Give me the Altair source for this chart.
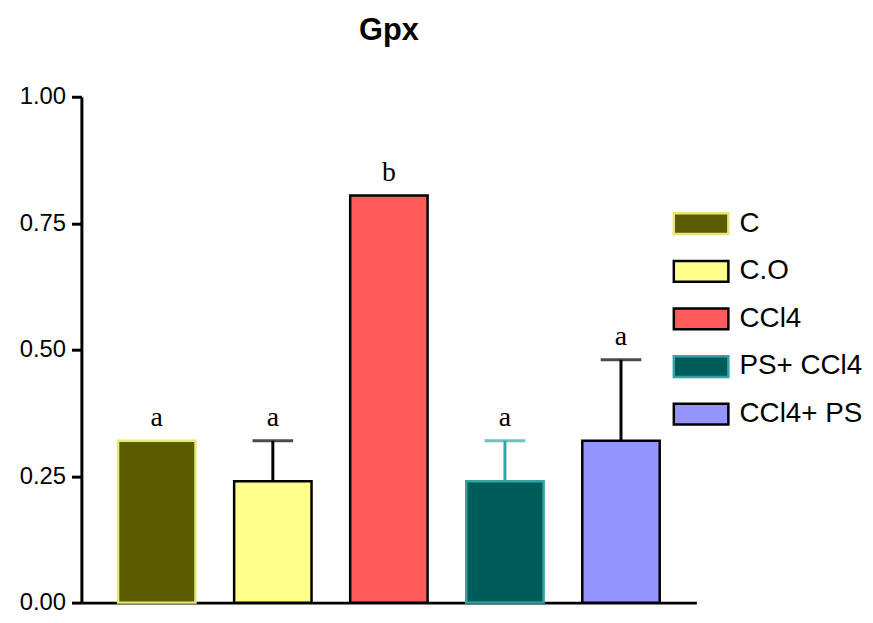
import altair as alt
import pandas as pd

groups = ["C", "C.O", "CCl4", "PS+ CCl4", "CCl4+ PS"]
means = [0.32, 0.24, 0.805, 0.24, 0.32]
errs = [0.0, 0.08, 0.0, 0.08, 0.16]
letters = ["a", "a", "b", "a", "a"]

fill_colors = ["#5b5b00", "#ffff8c", "#ff5b5b", "#005b5b", "#9494ff"]
stroke_colors = ["#e6e67a", "#000000", "#000000", "#33a3a3", "#000000"]

df = pd.DataFrame({
    "group": groups,
    "mean": means,
    "err": errs,
    "top": [m + e for m, e in zip(means, errs)],
    "letter": letters,
})

x_enc = alt.X("group:N", sort=groups,
              scale=alt.Scale(paddingInner=0.333, paddingOuter=0.316),
              axis=alt.Axis(title=None, labels=False, ticks=False,
                            domainColor="black", domainWidth=3))
y_scale = alt.Scale(domain=[0, 1], nice=False)

fill_enc = alt.Fill("group:N", sort=groups,
                    scale=alt.Scale(domain=groups, range=fill_colors),
                    legend=alt.Legend(title=None))
stroke_enc = alt.Stroke("group:N", sort=groups,
                        scale=alt.Scale(domain=groups, range=stroke_colors),
                        legend=alt.Legend(title=None))

base = alt.Chart(df)

bars = base.mark_bar(strokeWidth=2.5).encode(
    x=x_enc,
    y=alt.Y("mean:Q", scale=y_scale,
            axis=alt.Axis(title=None, values=[0, 0.25, 0.5, 0.75, 1.0],
                          format=".2f", labelFont="Liberation Sans",
                          labelFontSize=24, labelColor="black",
                          tickSize=10, tickWidth=3, tickColor="black",
                          domainColor="black", domainWidth=3,
                          labelPadding=6, grid=False)),
    fill=fill_enc,
    stroke=stroke_enc,
)

err_data = base.transform_filter("datum.err > 0")

stems = err_data.mark_rule(strokeWidth=3).encode(
    x=alt.X("group:N", sort=groups),
    y=alt.Y("mean:Q"),
    y2="top:Q",
    stroke=stroke_enc,
)

caps = err_data.mark_tick(filled=False, size=38, thickness=0.1, strokeWidth=3).encode(
    x=alt.X("group:N", sort=groups),
    y=alt.Y("top:Q"),
    stroke=stroke_enc,
)

labels = base.mark_text(font="Liberation Serif", fontSize=28, baseline="bottom",
                        dy=-9, color="black").encode(
    x=alt.X("group:N", sort=groups),
    y=alt.Y("top:Q"),
    text="letter:N",
)

chart = alt.layer(bars, stems, caps, labels).properties(
    width=620,
    height=510,
    title=alt.Title("Gpx", font="Liberation Sans", fontSize=31,
                    fontWeight="bold", anchor="middle", color="black", offset=38),
    autosize=alt.AutoSizeParams(type="none"),
    padding={"left": 74, "top": 87, "right": 170, "bottom": 10},
).configure_view(
    stroke=None
).configure_legend(
    orient="none",
    legendX=609.75,
    legendY=113,
    symbolType="M-2,-0.76H2V0.76H-2Z",
    symbolSize=756.25,
    symbolStrokeWidth=2.5,
    labelFont="Liberation Sans",
    labelFontSize=28,
    labelColor="black",
    labelOffset=23.75,
    rowPadding=16,
    padding=0,
)

chart.save("out.html", embed_options={"renderer": "svg", "actions": False})
